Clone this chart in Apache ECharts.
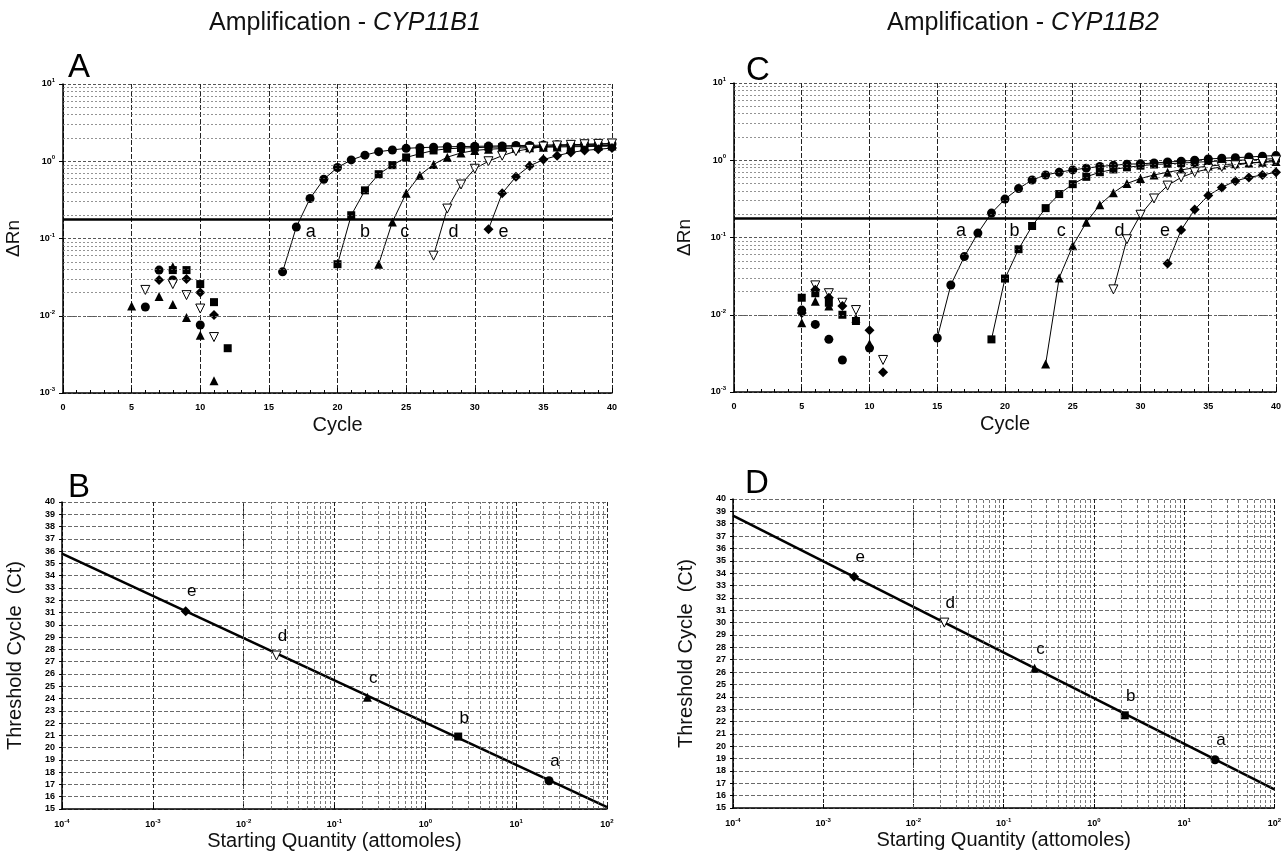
<!DOCTYPE html>
<html><head><meta charset="utf-8">
<script src="https://cdn.jsdelivr.net/npm/echarts@6/dist/echarts.min.js"></script>
<style>html,body{margin:0;padding:0;background:#fff}#c{width:1284px;height:856px}</style>
</head><body><div id="c"></div>
<script>
const FONT = '"Liberation Sans", Arial, Helvetica, sans-serif';

// ---------- DATA ----------
const threshold = 0.18;
const sampleNames = ['a', 'b', 'c', 'd', 'e'];

// Panel A (CYP11B1) - early-cycle noise points [cycle, dRn]
const noiseA_a = [[6,0.013],[7,0.039],[8,0.029],[10,0.0076]];
const noiseA_b = [[8,0.039],[9,0.039],[10,0.0257],[11,0.015],[12,0.0038]];
const noiseA_c = [[5,0.0134],[7,0.0178],[8,0.043],[8,0.014],[9,0.0095],[10,0.0056],[11,0.00144]];
const noiseA_d = [[6,0.0216],[8,0.0257],[9,0.0185],[10,0.0124],[11,0.0053]];
const noiseA_e = [[7,0.029],[9,0.03],[10,0.02],[11,0.0102]];
// Panel A amplification curves
const curveA_a = [[16,0.037],[17,0.141],[18,0.33],[19,0.585],[20,0.83],[21,1.04],[22,1.2],[23,1.33],[24,1.4],[25,1.47],[26,1.5],[27,1.52],[28,1.54],[29,1.55],[30,1.56],[31,1.57],[32,1.58],[33,1.6],[34,1.6],[35,1.62],[36,1.63],[37,1.64],[38,1.65],[39,1.66],[40,1.67]];
const curveA_b = [[20,0.0465],[21,0.2],[22,0.42],[23,0.68],[24,0.89],[25,1.12],[26,1.25],[27,1.38],[28,1.45],[29,1.48],[30,1.5],[31,1.52],[32,1.53],[33,1.54],[34,1.55],[35,1.56],[36,1.57],[37,1.58],[38,1.59],[39,1.6],[40,1.6]];
const curveA_c = [[23,0.0465],[24,0.164],[25,0.385],[26,0.66],[27,0.91],[28,1.13],[29,1.28],[30,1.38],[31,1.43],[32,1.46],[33,1.48],[34,1.5],[35,1.52],[36,1.53],[37,1.54],[38,1.55],[39,1.56],[40,1.57]];
const curveA_d = [[27,0.06],[28,0.244],[29,0.5],[30,0.8],[31,1.0],[32,1.18],[33,1.35],[34,1.45],[35,1.55],[36,1.6],[37,1.63],[38,1.66],[39,1.68],[40,1.7]];
const curveA_e = [[31,0.132],[32,0.385],[33,0.63],[34,0.87],[35,1.05],[36,1.18],[37,1.3],[38,1.38],[39,1.43],[40,1.48]];

// Panel C (CYP11B2) - noise
const noiseC_a = [[5,0.0115],[6,0.0075],[7,0.0048],[8,0.0026],[10,0.0037]];
const noiseC_b = [[5,0.0166],[6,0.019],[7,0.0143],[8,0.01],[9,0.0083]];
const noiseC_c = [[5,0.0079],[6,0.015],[7,0.013],[9,0.009],[10,0.0042]];
const noiseC_d = [[6,0.024],[7,0.019],[8,0.0143],[9,0.0115],[11,0.0026]];
const noiseC_e = [[5,0.0105],[6,0.021],[7,0.0166],[8,0.013],[10,0.0063],[11,0.0018]];
// Panel C amplification curves
const curveC_a = [[15,0.005],[16,0.0243],[17,0.0566],[18,0.114],[19,0.207],[20,0.314],[21,0.43],[22,0.555],[23,0.645],[24,0.7],[25,0.75],[26,0.79],[27,0.83],[28,0.86],[29,0.89],[30,0.9],[31,0.92],[32,0.95],[33,0.97],[34,1.0],[35,1.04],[36,1.06],[37,1.08],[38,1.1],[39,1.13],[40,1.15]];
const curveC_b = [[19,0.0048],[20,0.0294],[21,0.0705],[22,0.141],[23,0.24],[24,0.365],[25,0.49],[26,0.61],[27,0.7],[28,0.76],[29,0.81],[30,0.85],[31,0.88],[32,0.9],[33,0.92],[34,0.94],[35,0.96],[36,0.98],[37,1.0],[38,1.01],[39,1.03],[40,1.05]];
const curveC_c = [[23,0.0023],[24,0.03],[25,0.078],[26,0.157],[27,0.265],[28,0.38],[29,0.5],[30,0.58],[31,0.645],[32,0.7],[33,0.75],[34,0.8],[35,0.84],[36,0.87],[37,0.9],[38,0.92],[39,0.94],[40,0.96]];
const curveC_d = [[28,0.0213],[29,0.095],[30,0.197],[31,0.32],[32,0.47],[33,0.6],[34,0.7],[35,0.77],[36,0.82],[37,0.86],[38,0.92],[39,0.95],[40,1.0]];
const curveC_e = [[32,0.046],[33,0.125],[34,0.23],[35,0.35],[36,0.445],[37,0.54],[38,0.6],[39,0.645],[40,0.7]];

// Curve annotation letters [name, cycle, dRn]
const labelsA = [['a',18.05,0.12],['b',22.0,0.12],['c',24.9,0.12],['d',28.45,0.12],['e',32.1,0.12]];
const labelsC = [['a',16.75,0.122],['b',20.7,0.122],['c',24.15,0.122],['d',28.45,0.122],['e',31.8,0.122]];

// Panel B standard curve (CYP11B1): starting quantity (attomoles) vs Ct
const qtyB = [23, 2.3, 0.23, 0.023, 0.0023];
const ctB  = [17.3, 20.9, 24.1, 27.5, 31.1];
const fitB = [[0.0001, 35.8], [100, 15.15]];
// Panel D standard curve (CYP11B2)
const qtyD = [22, 2.2, 0.22, 0.022, 0.0022];
const ctD  = [18.9, 22.5, 26.3, 30.0, 33.7];
const fitD = [[0.0001, 38.65], [100, 16.5]];

// ---------- STYLE HELPERS ----------
const SYM = {
  a: {symbol:'circle', symbolSize:9, symbolRotate:0, hollow:false},
  b: {symbol:'rect', symbolSize:8, symbolRotate:0, hollow:false},
  c: {symbol:'triangle', symbolSize:9, symbolRotate:0, hollow:false},
  d: {symbol:'triangle', symbolSize:9, symbolRotate:180, hollow:true},
  e: {symbol:'diamond', symbolSize:10, symbolRotate:0, hollow:false}
};
function itemSt(k){ return SYM[k].hollow ? {color:'#fff', borderColor:'#000', borderWidth:1, opacity:1} : {color:'#000', borderWidth:0, opacity:1}; }

function pow10Label(v){ const e = Math.round(Math.log10(v)); return '{b|10}{s|' + e + '}'; }
const powRich = {
  b:{fontSize:9, fontWeight:'bold', fontFamily:FONT, color:'#000'},
  s:{fontSize:6, fontWeight:'bold', fontFamily:FONT, color:'#000', padding:[0,0,7,0]}
};
function minorLogValues(n0, n1){
  const out = [];
  for (let n = n0; n < n1; n++) for (let k = 2; k <= 9; k++) out.push(+(k * Math.pow(10, n)).toPrecision(3));
  return out;
}

function gridLineSeries(xi, yi, axisKey, values, style){
  return {type:'line', xAxisIndex:xi, yAxisIndex:yi, data:[], silent:true, z:1,
    markLine:{silent:true, symbol:['none','none'], label:{show:false}, animation:false,
      lineStyle:style, data: values.map(v => ({[axisKey]: v}))}};
}

function ampSeries(xi, yi, noises, curves){
  const out = [];
  sampleNames.forEach((k, i) => {
    const s = SYM[k];
    out.push({type:'scatter', xAxisIndex:xi, yAxisIndex:yi, data:noises[i], z:4,
      symbol:s.symbol, symbolSize:s.symbolSize, symbolRotate:s.symbolRotate, itemStyle:itemSt(k)});
    out.push({type:'line', xAxisIndex:xi, yAxisIndex:yi, data:curves[i], z:4,
      symbol:s.symbol, symbolSize:s.symbolSize, symbolRotate:s.symbolRotate, showSymbol:true,
      lineStyle:{color:'#000', width:1}, itemStyle:itemSt(k)});
  });
  // threshold line
  out.push({type:'line', xAxisIndex:xi, yAxisIndex:yi, data:[], z:3, silent:true,
    markLine:{silent:true, symbol:['none','none'], label:{show:false}, animation:false,
      lineStyle:{color:'#000', width:2.6, type:'solid'}, data:[{yAxis:threshold}]}});
  return out;
}
function annotSeries(xi, yi, labels){
  return {type:'scatter', xAxisIndex:xi, yAxisIndex:yi, z:5, symbolSize:1, itemStyle:{color:'rgba(0,0,0,0)', opacity:1},
    data: labels.map(l => ({name:l[0], value:[l[1], l[2]]})),
    label:{show:true, position:'inside', formatter:'{b}', fontSize:18, fontFamily:FONT, color:'#000', opacity:1}};
}
function stdSeries(xi, yi, qty, ct, fit){
  const pts = qty.map((q, i) => {
    const k = sampleNames[i], s = SYM[k];
    return {name:k, value:[q, ct[i]], symbol:s.symbol, symbolSize:s.symbolSize, symbolRotate:s.symbolRotate, itemStyle:itemSt(k)};
  });
  return [
    {type:'line', xAxisIndex:xi, yAxisIndex:yi, data:fit, showSymbol:false, symbol:'none', z:3,
      lineStyle:{color:'#000', width:2.6}},
    {type:'scatter', xAxisIndex:xi, yAxisIndex:yi, data:pts, z:4,
      label:{show:true, position:'top', offset:[6,-1], formatter:'{b}', fontSize:17, fontFamily:FONT, color:'#000', opacity:1}}
  ];
}

// ---------- AXES ----------
const tickFont = {fontSize:9, fontWeight:'bold', fontFamily:FONT, color:'#000'};
function cycleX(gi){
  return {type:'value', gridIndex:gi, min:0, max:40, interval:5,
    name:'Cycle', nameLocation:'middle', nameGap:22, nameTextStyle:{fontSize:20, fontFamily:FONT, color:'#111'},
    axisLine:{show:true, onZero:false, lineStyle:{color:'#000', width:1.5}},
    axisTick:{show:true, inside:true, length:5, lineStyle:{color:'#000'}},
    minorTick:{show:true, splitNumber:5, length:3, lineStyle:{color:'#000'}},
    axisLabel:Object.assign({margin:10}, tickFont),
    splitLine:{show:true, lineStyle:{color:'#222', type:[5,2], width:1}}};
}
function rnY(gi){
  return {type:'log', logBase:10, gridIndex:gi, min:0.001, max:10,
    name:'ΔRn', nameLocation:'middle', nameGap:40, nameTextStyle:{fontSize:19, fontFamily:FONT, color:'#111'},
    axisLine:{show:true, lineStyle:{color:'#000', width:1.5}},
    axisTick:{show:true, length:4, lineStyle:{color:'#000'}},
    axisLabel:{formatter:pow10Label, rich:powRich, margin:8},
    splitLine:{show:true, lineStyle:{color:'#444', type:[3,2], width:0.9}}};
}
function qtyX(gi){
  return {type:'log', logBase:10, gridIndex:gi, min:0.0001, max:100, splitNumber:6,
    name:'Starting Quantity (attomoles)', nameLocation:'middle', nameGap:22, nameTextStyle:{fontSize:20, fontFamily:FONT, color:'#111'},
    axisLine:{show:true, onZero:false, lineStyle:{color:'#000', width:1.5}},
    axisTick:{show:true, inside:true, length:4, lineStyle:{color:'#000'}},
    axisLabel:{formatter:pow10Label, rich:powRich, margin:9},
    splitLine:{show:true, lineStyle:{color:'#222', type:[4,2], width:1}}};
}
function ctY(gi){
  return {type:'value', gridIndex:gi, min:15, max:40, interval:1,
    name:'Threshold Cycle  (Ct)', nameLocation:'middle', nameGap:37, nameTextStyle:{fontSize:20, fontFamily:FONT, color:'#111'},
    axisLine:{show:true, onZero:false, lineStyle:{color:'#000', width:1.5}},
    axisTick:{show:true, length:3, lineStyle:{color:'#000'}},
    axisLabel:Object.assign({margin:7}, tickFont),
    splitLine:{show:true, lineStyle:{color:'#444', type:[4,2], width:0.8}}};
}

const minorStyleH = {color:'#666', type:[2,2], width:0.7};
const minorStyleV = {color:'#555', type:[3,2], width:0.8};

const series = [].concat(
  [gridLineSeries(0, 0, 'yAxis', minorLogValues(-3, 1), minorStyleH)],
  ampSeries(0, 0, [noiseA_a,noiseA_b,noiseA_c,noiseA_d,noiseA_e], [curveA_a,curveA_b,curveA_c,curveA_d,curveA_e]),
  [annotSeries(0, 0, labelsA)],
  [gridLineSeries(1, 1, 'yAxis', minorLogValues(-3, 1), minorStyleH)],
  ampSeries(1, 1, [noiseC_a,noiseC_b,noiseC_c,noiseC_d,noiseC_e], [curveC_a,curveC_b,curveC_c,curveC_d,curveC_e]),
  [annotSeries(1, 1, labelsC)],
  [gridLineSeries(2, 2, 'xAxis', minorLogValues(-4, 2), minorStyleV)],
  stdSeries(2, 2, qtyB, ctB, fitB),
  [gridLineSeries(3, 3, 'xAxis', minorLogValues(-4, 2), minorStyleV)],
  stdSeries(3, 3, qtyD, ctD, fitD)
);

const titleRich = {
  n:{fontSize:25, fontFamily:FONT, color:'#111', fontWeight:'normal'},
  i:{fontSize:25, fontFamily:FONT, color:'#111', fontStyle:'italic', fontWeight:'normal'}
};
function letter(t, x, y){ return {type:'text', left:x, top:y, style:{text:t, fontSize:33, fontFamily:FONT, fill:'#000'}}; }

const option = {
  animation:false,
  backgroundColor:'#fff',
  title:[
    {text:'{n|Amplification - }{i|CYP11B1}', left:340, top:6, textAlign:'center', textStyle:{fontWeight:'normal', rich:titleRich}},
    {text:'{n|Amplification - }{i|CYP11B2}', left:1018, top:6, textAlign:'center', textStyle:{fontWeight:'normal', rich:titleRich}}
  ],
  graphic:[letter('A',68,51), letter('C',746,54), letter('B',68,471), letter('D',745,467)],
  grid:[
    {left:63, top:84, width:549, height:309},
    {left:734, top:83, width:548, height:309},
    {left:62, top:502, width:545, height:307},
    {left:733, top:499, width:544, height:309}
  ],
  xAxis:[cycleX(0), cycleX(1), qtyX(2), qtyX(3)],
  yAxis:[rnY(0), rnY(1), ctY(2), ctY(3)],
  series: series
};
const chart = echarts.init(document.getElementById('c'), null, {renderer:'canvas'});
chart.setOption(option);
</script>
</body></html>
